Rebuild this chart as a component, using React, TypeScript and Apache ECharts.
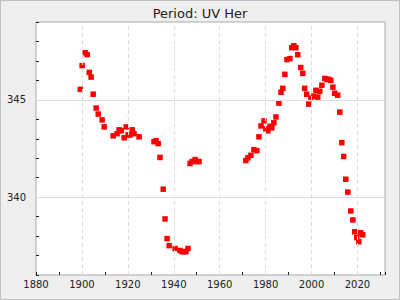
import React, { useEffect, useRef } from "react";
import * as echarts from "echarts";

const titleText = "Period: UV Her";

const years: number[] = [
  1899.3, 1900.1, 1901.4, 1902.3, 1903.2, 1904.0, 1904.9, 1906.2, 1907.1, 1908.8,
  1909.7, 1913.6, 1915.3, 1916.2, 1917.1, 1918.4, 1919.3, 1920.1, 1921.0, 1921.9,
  1922.7, 1924.9, 1931.4, 1932.3, 1933.2, 1934.0, 1935.4, 1936.2, 1937.1, 1938.0,
  1940.6, 1942.7, 1943.6, 1944.5, 1945.3, 1946.2, 1947.1, 1948.0, 1949.3, 1950.1,
  1951.0, 1971.4, 1972.3, 1973.6, 1974.9, 1976.2, 1977.1, 1978.0, 1979.3, 1980.1,
  1981.0, 1981.9, 1982.7, 1983.6, 1984.5, 1985.8, 1986.7, 1987.5, 1988.4, 1989.3,
  1990.6, 1991.4, 1992.3, 1993.2, 1994.0, 1995.3, 1996.2, 1997.0, 1997.9, 1998.8,
  1999.7, 2001.0, 2001.9, 2002.7, 2003.6, 2004.5, 2005.8, 2006.7, 2007.5, 2008.4,
  2009.3, 2010.1, 2011.4, 2012.3, 2013.2, 2014.0, 2014.9, 2015.8, 2017.1, 2018.0,
  2018.8, 2019.7, 2020.6, 2021.4, 2022.3,
];

const periods: number[] = [
  345.54, 346.76, 347.42, 347.32, 346.41, 346.17, 345.29, 344.58, 344.27, 343.97,
  343.61, 343.15, 343.26, 343.46, 343.41, 343.05, 343.61, 343.2, 343.2, 343.46,
  343.26, 343.1, 342.85, 342.9, 342.75, 342.04, 340.41, 338.88, 337.87, 337.51,
  337.36, 337.26, 337.2, 337.2, 337.2, 337.36, 341.73, 341.83, 341.93, 341.83,
  341.83, 341.88, 342.02, 342.15, 342.44, 342.39, 343.1, 343.66, 343.92, 343.51,
  343.41, 343.64, 343.56, 343.82, 344.12, 344.83, 345.39, 345.59, 346.31, 347.07,
  347.12, 347.68, 347.78, 347.68, 347.32, 346.66, 346.36, 345.59, 345.29, 344.78,
  345.09, 345.19, 345.49, 345.14, 345.44, 345.75, 346.1, 346.05, 346.05, 346.0,
  345.65, 345.34, 345.24, 344.37, 342.8, 342.09, 340.92, 340.26, 339.29, 338.83,
  338.22, 337.92, 337.71, 338.17, 338.07,
];

const xGridYears: number[] = [1900, 1920, 1940, 1960, 1980, 2000, 2020];
const yGridValues: number[] = [340, 345];

export default function App() {
  const ref = useRef<HTMLDivElement>(null);
  useEffect(() => {
    if (!ref.current) return;
    const chart = echarts.init(ref.current, null, { renderer: "svg" });
    const font = "DejaVu Sans";
    chart.setOption({
      animation: false,
      backgroundColor: "#efefef",
      textStyle: { fontFamily: font },
      title: {
        text: titleText,
        left: "center",
        top: 2,
        textStyle: { fontFamily: font, fontSize: 13, fontWeight: "normal", color: "#222" },
      },
      graphic: [
        {
          type: "rect",
          shape: { x: 0.5, y: 0.5, width: 399, height: 299 },
          style: { fill: "none", stroke: "#c0c0c0", lineWidth: 1 },
          silent: true,
        },
      ],
      grid: {
        left: 36,
        right: 15,
        top: 22,
        bottom: 25,
        show: true,
        backgroundColor: "#ffffff",
        borderColor: "#aaaaaa",
        borderWidth: 1,
      },
      xAxis: {
        type: "value",
        min: 1880,
        max: 2032,
        interval: 10,
        axisLine: { show: false },
        axisTick: { show: true, inside: true, length: 3, lineStyle: { color: "#222" } },
        axisLabel: {
          fontFamily: font,
          fontSize: 10,
          color: "#222",
          margin: 4,
          formatter: (v: number) => (v % 20 === 0 ? String(v) : ""),
        },
        splitLine: { show: false },
      },
      yAxis: {
        type: "value",
        min: 336,
        max: 349,
        interval: 1,
        axisLine: { show: false },
        axisTick: { show: true, inside: true, length: 3, lineStyle: { color: "#222" } },
        axisLabel: {
          fontFamily: font,
          fontSize: 10,
          color: "#222",
          margin: 10,
          formatter: (v: number) => (v % 5 === 0 ? String(v) : ""),
        },
        splitLine: { show: false },
      },
      series: [
        {
          type: "scatter",
          z: 1,
          symbolSize: 0,
          data: [[years[0], periods[0]]],
          silent: true,
          markLine: {
            silent: true,
            symbol: "none",
            label: { show: false },
            animation: false,
            data: [
              ...xGridYears.map((x) => ({
                xAxis: x,
                lineStyle: { color: "#dddddd", type: [4, 3], width: 1 },
              })),
              ...yGridValues.map((y) => ({
                yAxis: y,
                lineStyle: { color: "#dddddd", type: "solid", width: 1 },
              })),
            ],
          },
        },
        {
          type: "scatter",
          z: 3,
          symbol: "rect",
          symbolSize: 5.5,
          itemStyle: { color: "#ff0000", opacity: 1 },
          data: years.map((y, i) => [y, periods[i]]),
        },
      ],
    });
    return () => chart.dispose();
  }, []);
  return (
    <div
      ref={ref}
      style={{ position: "fixed", left: 0, top: 0, width: 400, height: 300 }}
    />
  );
}
